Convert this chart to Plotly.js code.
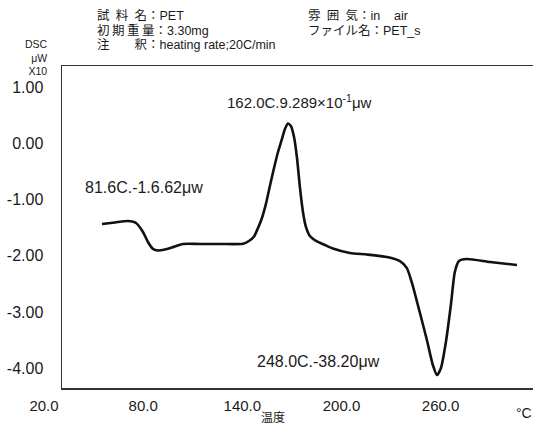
<!DOCTYPE html>
<html>
<head>
<meta charset="utf-8">
<script src="https://cdn.plot.ly/plotly-3.0.1.min.js"></script>
<style>
html,body{margin:0;padding:0;background:#fff;}
#chart{width:533px;height:426px;}
</style>
</head>
<body>
<div id="chart"></div>
<script>
// DSC curve of PET (temperature in °C, DSC signal in µW ×10)
const temperature = [44.2, 52.1, 59.9, 64.8, 69.0, 72.0, 75.1, 78.1, 82.3, 86.5, 93.2, 103.5, 115.6, 129.5,
  133.1, 136.2, 138.6, 141.0, 143.4, 145.8, 148.3, 150.7, 153.1, 154.9, 156.7, 158.5, 160.4, 162.2, 164.0,
  165.8, 167.6, 170.0, 174.3, 179.1, 183.9, 194.2, 204.5, 216.6, 224.5, 228.7, 232.3, 236.6, 240.8, 244.4, 246.9,
  249.3, 252.3, 255.3, 257.7, 260.2, 265.0, 278.9, 295.3];
const dsc = [-1.436, -1.409, -1.383, -1.418, -1.578, -1.756, -1.881, -1.908, -1.890, -1.854, -1.792, -1.792, -1.792, -1.788,
  -1.738, -1.658, -1.507, -1.329, -1.079, -0.760, -0.440, -0.155, 0.077, 0.254, 0.352, 0.308, 0.112, -0.262, -0.795,
  -1.222, -1.489, -1.650, -1.747, -1.810, -1.872, -1.952, -1.979, -2.023, -2.095, -2.220, -2.540, -3.020, -3.500, -3.945, -4.123,
  -3.998, -3.535, -2.877, -2.290, -2.095, -2.059, -2.112, -2.166];

const xTickVals = [20, 80, 140, 200, 260];
const xTickText = ['20.0', '80.0', '140.0', '200.0', '260.0'];
const yTickVals = [1, 0, -1, -2, -3, -4];
const yTickText = ['1.00', '0.00', '-1.00', '-2.00', '-3.00', '-4.00'];

const headerLeft = ['試\u2002料\u2002名：PET', '初\u2009期\u2009重\u2009量：3.30mg', '注\u3000\u3000釈：heating rate;20C/min'];
const headerRight = ['雰\u2002囲\u2002気：in\u00a0\u00a0\u00a0\u00a0air', 'ファイル名：PET_s'];
const yUnitLines = ['DSC', 'μW', 'X10'];
const peakLabels = ['162.0C.9.289×10<sup>-1</sup>μw', '81.6C.-1.6.62μw', '248.0C.-38.20μw'];

const FONT = 'Liberation Sans, Arial, Noto Sans CJK JP, sans-serif';
const INK = '#1a1a1a';

// pixel helpers for positioning text outside the plot area
const L = 62, R = 0, T = 66, B = 38, W = 533, H = 426;
const pw = W - L - R, ph = H - T - B;
const px = x => (x - L) / pw;
const py = y => (H - B - y) / ph;

const annotations = [];
headerLeft.forEach((t, i) => annotations.push({
  text: t, xref: 'paper', yref: 'paper', x: px(95), y: py(15 + 15 * i),
  xanchor: 'left', yanchor: 'middle', showarrow: false,
  font: {family: FONT, size: 12.5, color: INK}
}));
headerRight.forEach((t, i) => annotations.push({
  text: t, xref: 'paper', yref: 'paper', x: px(306), y: py(15 + 15 * i),
  xanchor: 'left', yanchor: 'middle', showarrow: false,
  font: {family: FONT, size: 12.5, color: INK}
}));
annotations.push({
  text: yUnitLines.join('<br>'), xref: 'paper', yref: 'paper', x: px(49), y: py(57),
  xanchor: 'right', yanchor: 'middle', align: 'right', showarrow: false, borderpad: 0,
  font: {family: FONT, size: 10.5, color: INK}
});
// peak labels (placed in data coordinates)
const labelPos = [[118.6, 0.75], [32.7, -0.78], [136.8, -3.89]];
const labelSize = [15, 16, 16];
peakLabels.forEach((t, i) => annotations.push({
  text: t, xref: 'x', yref: 'y', x: labelPos[i][0], y: labelPos[i][1],
  xanchor: 'left', yanchor: 'middle', showarrow: false,
  font: {family: FONT, size: labelSize[i], color: INK}
}));
annotations.push({
  text: '温度', xref: 'paper', yref: 'paper', x: px(273), y: py(416),
  xanchor: 'center', yanchor: 'middle', showarrow: false,
  font: {family: 'Noto Sans CJK JP, sans-serif', size: 12, color: INK}
});
annotations.push({
  text: '°C', xref: 'paper', yref: 'paper', x: px(514), y: py(413),
  xanchor: 'left', yanchor: 'middle', showarrow: false,
  font: {family: FONT, size: 14, color: INK}
});

const trace = {
  x: temperature, y: dsc, type: 'scatter', mode: 'lines',
  line: {color: '#111', width: 2.6, shape: 'spline', smoothing: 0.6},
  hoverinfo: 'skip'
};

const layout = {
  width: W, height: H,
  margin: {l: L, r: R, t: T, b: B, pad: 0},
  paper_bgcolor: '#fff', plot_bgcolor: '#fff',
  showlegend: false,
  font: {family: FONT, color: INK},
  xaxis: {
    range: [20, 305], tickmode: 'array', tickvals: xTickVals, ticktext: xTickText,
    showgrid: false, zeroline: false, showline: true, mirror: true,
    linecolor: '#333', linewidth: 1.5, ticks: '',
    tickfont: {family: FONT, size: 15, color: INK},
    ticklabelshift: -18, ticklabelstandoff: 3
  },
  yaxis: {
    range: [-4.354, 1.375], tickmode: 'array', tickvals: yTickVals, ticktext: yTickText,
    showgrid: false, zeroline: false, showline: true, mirror: false,
    linecolor: '#333', linewidth: 1.5, ticks: '',
    tickfont: {family: FONT, size: 16, color: INK},
    ticklabelstandoff: 14
  },
  annotations: annotations
};

Plotly.newPlot('chart', [trace], layout, {staticPlot: true, displayModeBar: false});
</script>
</body>
</html>
